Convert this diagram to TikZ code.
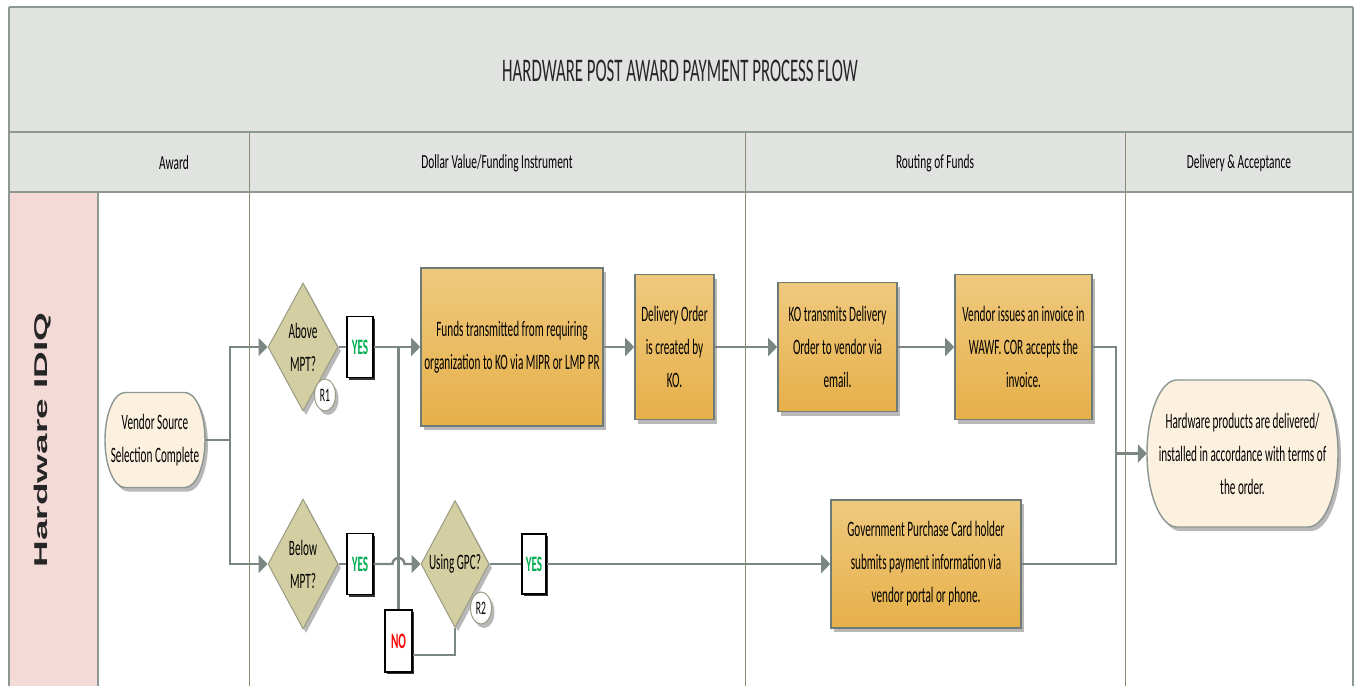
\documentclass[tikz,border=0pt]{standalone}
\usepackage{fontspec}
\setmainfont{Carlito}
\newfontfamily\boxfont[FakeStretch=0.51]{Carlito}
\newfontfamily\headfont[FakeStretch=0.57]{Carlito}
\newfontfamily\lanefont[FakeStretch=2]{Liberation Sans}
\usetikzlibrary{shapes.geometric,shadows,arrows.meta}
\definecolor{bandgray}{HTML}{E1E3E1}
\definecolor{rulegray}{HTML}{8E9892}
\definecolor{lanepink}{HTML}{F4DAD7}
\definecolor{divline}{HTML}{8D8A6E}
\definecolor{flowgray}{HTML}{7B8783}
\definecolor{boxtop}{HTML}{EFC97E}
\definecolor{boxbot}{HTML}{E6B04A}
\definecolor{boxedge}{HTML}{6E7A76}
\definecolor{decfill}{HTML}{D4CFA2}
\definecolor{decedge}{HTML}{9A9A82}
\definecolor{termfill}{HTML}{FCF1DF}
\definecolor{yesgreen}{HTML}{00B050}
\definecolor{nored}{HTML}{FF0000}
\begin{document}
\begin{tikzpicture}[x=1pt,y=-1pt,
  txt/.style={font=\boxfont\fontsize{22}{33}\selectfont, align=center, inner sep=0pt, text=black},
  softshadow/.style={drop shadow={shadow xshift=3pt, shadow yshift=-4pt, fill=black!28, opacity=1}},
  process/.style={txt, draw=boxedge, line width=1.6pt, top color=boxtop, bottom color=boxbot, softshadow},
  decision/.style={txt, shape=diamond, shape aspect=0.55, draw=decedge, line width=1pt, fill=decfill, softshadow},
  term/.style={draw=boxedge!80, line width=1.4pt, fill=termfill, softshadow},
  flag/.style={font=\boxfont\bfseries\fontsize{22}{26}\selectfont, draw=black, line width=1.2pt, fill=white, inner sep=0pt, minimum width=26pt, minimum height=61pt, drop shadow={shadow xshift=1.5pt, shadow yshift=-2pt, fill=black!80, opacity=1}},
  ref/.style={shape=ellipse, draw=decedge, line width=1pt, fill=white, minimum width=21pt, minimum height=32pt, inner sep=0pt, font=\boxfont\fontsize{19}{20}\selectfont, softshadow},
  head/.style={font=\headfont\fontsize{20}{24}\selectfont, text=black},
  flow/.style={draw=flowgray, line width=2.4pt},
  arrow/.style={flow, -{Triangle[length=9pt,width=18pt]}}]
\useasboundingbox (0,0) rectangle (1356,686);
\fill [bandgray] (9,7) rectangle (1353,192);
\fill [lanepink] (9,192) rectangle (98,686);
\draw [divline, line width=1pt] (249,132) -- (249,686);
\draw [divline, line width=1pt] (745,132) -- (745,686);
\draw [divline, line width=1pt] (1125,132) -- (1125,686);
\draw [rulegray, line width=1.2pt] (98,192) -- (98,686);
\draw [rulegray, line width=2.5pt] (9,7) -- (1353,7);
\draw [rulegray, line width=2.5pt] (9,132) -- (1353,132);
\draw [rulegray, line width=2.5pt] (9,192) -- (1353,192);
\draw [rulegray, line width=1.6pt] (9,7) -- (9,686);
\draw [rulegray, line width=1.6pt] (1353,7) -- (1353,686);
\node [font=\boxfont\fontsize{33}{36}\selectfont, text=black!85] (title) at (680,71) {HARDWARE POST AWARD PAYMENT PROCESS FLOW};
\node [head] (award) at (174,163) {Award};
\node [head] (dollar) at (497,163) {Dollar Value/Funding Instrument};
\node [head] (routing) at (935,163) {Routing of Funds};
\node [head] (delivery) at (1239,163) {Delivery \& Acceptance};
\node [font=\lanefont\bfseries\fontsize{18.5}{20}\selectfont, rotate=90, text=black!85] (lane) at (43,440) {Hardware IDIQ};
\filldraw [term] (125,392.5) -- (185,392.5) arc [start angle=-90, end angle=90, x radius=20, y radius=47.5] -- (125,487.5) arc [start angle=90, end angle=270, x radius=20, y radius=47.5] -- cycle;
\node [txt, minimum width=100pt, minimum height=95pt] (start) at (155,440) {Vendor Source\\Selection Complete};
\filldraw [term] (1177,380) -- (1308,380) arc [start angle=-90, end angle=90, x radius=30, y radius=73.5] -- (1177,527) arc [start angle=90, end angle=270, x radius=30, y radius=73.5] -- cycle;
\node [txt, minimum width=191pt, minimum height=147pt] (fin) at (1242.5,453.5) {Hardware products are delivered/\\installed in accordance with terms of\\the order.};
\node [decision, minimum width=70pt, minimum height=128pt] (d1) at (303,347) {Above\\MPT?};
\node [ref] (r1) at (325,395) {R1};
\node [flag, text=yesgreen] (yes1) at (360,347) {YES};
\node [process, minimum width=182pt, minimum height=158pt] (fund) at (512,347) {Funds transmitted from requiring\\organization to KO via MIPR or LMP PR};
\node [process, minimum width=79pt, minimum height=145pt] (dord) at (674.5,347) {Delivery Order\\is created by\\KO.};
\node [process, minimum width=119pt, minimum height=129pt] (kotx) at (837.5,347) {KO transmits Delivery\\Order to vendor via\\email.};
\node [process, minimum width=137pt, minimum height=145pt] (inv) at (1023.5,347) {Vendor issues an invoice in\\WAWF. COR accepts the\\invoice.};
\node [decision, minimum width=70pt, minimum height=130pt] (d2) at (303,564) {Below\\MPT?};
\node [flag, text=yesgreen] (yes2) at (360,564) {YES};
\node [decision, minimum width=68pt, minimum height=127pt] (d3) at (455,564) {Using GPC?};
\node [ref] (r2) at (481,608) {R2};
\node [flag, text=yesgreen, minimum width=24pt, minimum height=60pt] (yes3) at (534,564) {YES};
\node [flag, text=nored, minimum width=27pt, minimum height=62pt] (no) at (398.5,641) {NO};
\node [process, minimum width=190pt, minimum height=128pt] (gpc) at (926,564) {Government Purchase Card holder\\submits payment information via\\vendor portal or phone.};
\coordinate (split) at (230,440);
\coordinate (merge) at (1116,453.5);
\draw [flow] (start.east) -- (split);
\draw [arrow] (split) |- (d1.west);
\draw [arrow] (split) |- (d2.west);
\draw [flow] (d1.east) -- (yes1.west);
\draw [arrow] (yes1.east) -- (fund.west);
\draw [arrow] (fund.east) -- (dord.west);
\draw [arrow] (dord.east) -- (kotx.west);
\draw [arrow] (kotx.east) -- (inv.west);
\draw [flow] (inv.east) -| (merge);
\draw [flow] (gpc.east) -| (merge);
\draw [arrow] (merge) -- (fin.west);
\draw [flow] (d2.east) -- (yes2.west);
\draw [arrow] (yes2.east) -- ([xshift=-6pt]no.north |- yes2.east) arc [start angle=180, end angle=360, radius=6] -- (d3.west);
\draw [flow] (d3.east) -- (yes3.west);
\draw [arrow] (yes3.east) -- (gpc.west);
\draw [flow] (d3.south) |- ([yshift=-14pt]no.east);
\draw [flow] (no.north) -- (no.north |- yes1.east);
\end{tikzpicture}
\end{document}
